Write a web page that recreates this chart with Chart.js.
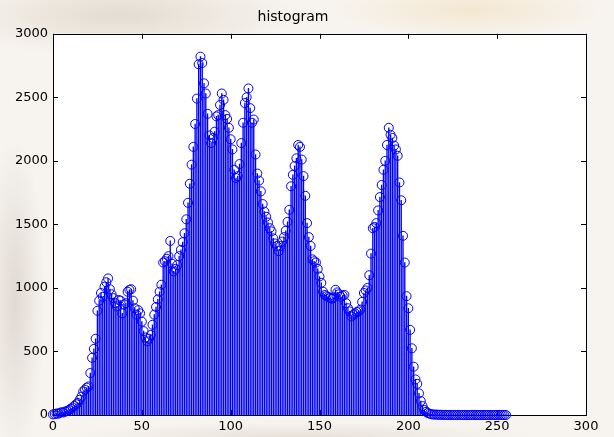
<!DOCTYPE html>
<html>
<head>
<meta charset="utf-8">
<title>histogram</title>
<script src="https://cdn.jsdelivr.net/npm/chart.js@4.4.0/dist/chart.umd.min.js"></script>
<style>
  body {
    margin: 0;
    background:
      radial-gradient(ellipse 260px 60px at 120px 15px, rgba(205,190,170,0.45), rgba(255,255,255,0) 70%),
      radial-gradient(ellipse 200px 40px at 470px 10px, rgba(240,215,170,0.45), rgba(255,255,255,0) 70%),
      radial-gradient(ellipse 40px 220px at 15px 300px, rgba(200,190,180,0.5), rgba(255,255,255,0) 75%),
      radial-gradient(ellipse 320px 20px at 300px 437px, rgba(210,200,190,0.45), rgba(255,255,255,0) 75%),
      #f7f4ef;
  }
  #wrap { width: 614px; height: 437px; position: relative; }
</style>
</head>
<body>
<div id="wrap"><canvas id="histogram-chart"></canvas></div>
<script>
// gray levels 0..255
const levels = Array.from({length: 256}, (_, i) => i);

// pixel counts per gray level
const counts = [
  5, 8, 12, 10, 18, 22, 20, 28, 32, 40,                  // 0
  50, 60, 72, 85, 95, 120, 145, 185, 200, 215,           // 10
  225, 330, 450, 520, 600, 820, 900, 960, 930, 1010,     // 20
  1045, 1075, 990, 950, 920, 880, 855, 905, 900, 800,    // 30
  870, 880, 970, 985, 990, 900, 840, 790, 825, 800,      // 40
  735, 660, 610, 580, 600, 630, 710, 790, 850, 910,      // 50
  970, 1025, 1200, 1210, 1230, 1250, 1370, 1190, 1130, 1150, // 60
  1180, 1250, 1300, 1360, 1430, 1540, 1670, 1820, 1970, 2110, // 70
  2290, 2490, 2760, 2820, 2770, 2610, 2530, 2370, 2200, 2140, // 80
  2180, 2230, 2350, 2360, 2440, 2530, 2480, 2360, 2330, 2260, // 90
  2170, 2090, 1930, 1865, 1880, 1975, 2140, 2300, 2455, 2500, // 100
  2570, 2415, 2300, 2325, 2050, 1900, 1845, 1760, 1660, 1600, // 110
  1560, 1515, 1470, 1445, 1390, 1350, 1330, 1290, 1330, 1365, // 120
  1400, 1450, 1520, 1615, 1800, 1890, 1960, 2020, 2125, 2110, // 130
  2010, 1880, 1725, 1510, 1400, 1330, 1225, 1210, 1200, 1150, // 140
  1090, 1040, 970, 945, 935, 930, 920, 915, 925, 985,    // 150
  965, 950, 930, 940, 945, 880, 840, 815, 775, 790,      // 160
  800, 810, 815, 830, 890, 960, 980, 1000, 1100, 1270,   // 170
  1470, 1480, 1510, 1610, 1715, 1810, 1930, 2000, 2125, 2260, // 180
  2205, 2180, 2120, 2090, 2040, 1830, 1690, 1410, 1200, 935,  // 190
  840, 670, 525, 380, 280, 245, 170, 110, 70, 40,        // 200
  25, 15, 10, 6, 4, 3, 3, 2, 2, 1,                       // 210
  1, 1, 0, 0, 1, 0, 0, 0, 1, 0,                          // 220
  0, 0, 0, 0, 0, 0, 1, 0, 0, 0,                          // 230
  0, 0, 0, 0, 0, 0, 0, 0, 0, 0,                          // 240
  0, 0, 0, 0, 0, 0                                       // 250
];

const xTicks = [0, 50, 100, 150, 200, 250, 300];
const yTicks = [0, 500, 1000, 1500, 2000, 2500, 3000];

const points = levels.map((lv, i) => ({x: lv, y: counts[i]}));

// white axes area, box and inward ticks like matlab
const axesBox = {
  id: 'axesBox',
  beforeDraw(chart) {
    const a = chart.chartArea, ctx = chart.ctx;
    ctx.save();
    ctx.fillStyle = '#ffffff';
    ctx.fillRect(a.left, a.top, a.right - a.left, a.bottom - a.top);
    ctx.restore();
  },
  beforeDatasetsDraw(chart) {
    const a = chart.chartArea, ctx = chart.ctx;
    const xs = chart.scales.x, ys = chart.scales.y;
    const len = 5;
    ctx.save();
    ctx.strokeStyle = '#000000';
    ctx.lineWidth = 1;
    ctx.strokeRect(Math.round(a.left) + 0.5, Math.round(a.top) + 0.5,
      Math.round(a.right - a.left), Math.round(a.bottom - a.top));
    ctx.beginPath();
    xTicks.forEach(v => {
      const px = Math.round(xs.getPixelForValue(v)) + 0.5;
      ctx.moveTo(px, a.bottom); ctx.lineTo(px, a.bottom - len);
      ctx.moveTo(px, a.top); ctx.lineTo(px, a.top + len);
    });
    yTicks.forEach(v => {
      const py = Math.round(ys.getPixelForValue(v)) + 0.5;
      ctx.moveTo(a.left, py); ctx.lineTo(a.left + len, py);
      ctx.moveTo(a.right, py); ctx.lineTo(a.right - len, py);
    });
    ctx.stroke();
    ctx.restore();
  }
};

const tickFont = { family: 'DejaVu Sans', size: 13 };

new Chart(document.getElementById('histogram-chart'), {
  type: 'bar',
  data: {
    datasets: [{
      type: 'line',
      label: 'markers',
      data: points,
      showLine: false,
      pointStyle: 'circle',
      pointRadius: 4.5,
      pointBorderWidth: 1,
      pointBorderColor: '#0000ff',
      pointBackgroundColor: 'rgba(0,0,0,0)',
      clip: false,
      order: 0
    }, {
      type: 'bar',
      label: 'stems',
      data: points,
      backgroundColor: '#0000ff',
      borderWidth: 0,
      barThickness: 0.7,
      order: 1
    }]
  },
  plugins: [axesBox],
  options: {
    responsive: true,
    maintainAspectRatio: false,
    animation: false,
    layout: { padding: { left: 0, right: 28, top: 0, bottom: 0 } },
    plugins: {
      legend: { display: false },
      tooltip: { enabled: false },
      title: {
        display: true,
        text: 'histogram',
        color: '#000000',
        font: { family: 'DejaVu Sans', size: 14, weight: 'normal' },
        padding: { top: 9, bottom: 8 }
      }
    },
    scales: {
      x: {
        type: 'linear',
        min: 0,
        max: 300,
        offset: false,
        grid: { display: false, drawTicks: false, offset: false },
        border: { display: false },
        ticks: {
          stepSize: 50,
          padding: 4,
          maxRotation: 0,
          color: '#000000',
          font: tickFont,
          callback: v => String(v)
        },
        afterFit(scale) { scale.height = 22; }
      },
      y: {
        min: 0,
        max: 3000,
        grid: { display: false, drawTicks: false },
        border: { display: false },
        ticks: {
          stepSize: 500,
          padding: 5,
          color: '#000000',
          font: tickFont,
          callback: v => String(v)
        },
        afterFit(scale) { scale.width = 53; }
      }
    }
  }
});
</script>
</body>
</html>
